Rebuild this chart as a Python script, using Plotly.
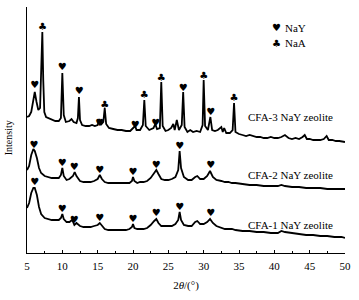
import plotly.graph_objects as go

# ---- data (2theta in degrees, intensity in arbitrary stacked units) ----
x3 = [5.0, 5.3, 5.6, 5.85, 6.1, 6.35, 6.6, 6.85, 7.05, 7.17, 7.3, 7.45, 7.7, 8.0, 8.5, 9.0, 9.5, 9.8, 10.0, 10.2,
      10.5, 11.0, 11.3, 11.6, 12.0, 12.2, 12.35, 12.5, 12.8, 13.3, 13.8, 14.2, 14.6, 15.0, 15.25, 15.45, 15.8, 16.0,
      16.2, 16.6, 17.2, 17.8, 18.4, 19.0, 19.6, 20.1, 20.3, 20.5, 21.0, 21.4, 21.6, 21.8, 22.3, 22.9, 23.15, 23.4,
      23.8, 24.0, 24.2, 24.6, 25.0, 25.4, 25.7, 25.9, 26.2, 26.5, 26.9, 27.1, 27.3, 27.7, 28.1, 28.5, 29.0, 29.5,
      29.85, 30.0, 30.2, 30.6, 30.95, 31.2, 31.6, 32.0, 32.5, 32.7, 32.9, 33.2, 33.7, 34.1, 34.3, 34.5, 35.0, 35.5,
      36.0, 36.5, 37.0, 37.5, 38.0, 38.5, 39.0, 39.5, 40.0, 40.5, 41.0, 41.5, 42.0, 42.5, 43.0, 43.5, 44.0, 44.3,
      44.6, 45.0, 45.5, 46.0, 46.5, 47.0, 47.4, 47.7, 48.2, 48.7, 49.2, 50.0]
y3 = [136, 137, 141, 153, 161, 151, 143, 145, 183, 221, 173, 141, 136, 135, 133, 132, 132, 135, 180, 138,
      131, 132, 134, 131, 130, 135, 156, 133, 128, 127, 127, 128, 127, 128, 134, 128, 131, 145,
      129, 125, 124, 123, 123, 122, 122, 125, 127, 123, 123, 128, 153, 127, 123, 125, 129, 124,
      125, 171, 127, 122, 123, 125, 129, 123, 133, 123, 128, 161, 126, 121, 123, 121, 122, 121,
      128, 173, 127, 123, 136, 123, 122, 123, 126, 121, 125, 120, 120, 123, 150, 121, 119, 118,
      117, 118, 117, 116, 116, 115, 115, 116, 115, 115, 116, 118, 115, 114, 115, 114, 116, 118,
      114, 114, 113, 113, 113, 114, 117, 113, 113, 112, 112, 111]

x2 = [5.0, 5.3, 5.6, 5.9, 6.1, 6.4, 6.7, 7.0, 7.5, 8.0, 8.5, 9.0, 9.5, 9.8, 10.0, 10.2, 10.6, 11.0, 11.5, 11.75,
      12.0, 12.5, 13.0, 13.5, 14.0, 14.5, 15.0, 15.3, 15.6, 16.0, 16.5, 17.0, 17.5, 18.0, 18.5, 19.0, 19.5, 19.85,
      20.0, 20.2, 20.6, 21.0, 21.5, 22.0, 22.5, 23.0, 23.3, 23.6, 24.0, 24.5, 25.0, 25.5, 26.0, 26.4, 26.6, 26.8,
      27.2, 27.8, 28.3, 28.8, 29.1, 29.5, 30.0, 30.5, 30.9, 31.3, 31.8, 32.5, 33.0, 33.5, 34.0, 34.5, 35.5, 36.5,
      37.5, 38.5, 39.5, 40.5, 41.0, 41.5, 42.5, 43.5, 44.5, 45.5, 46.5, 47.5, 48.5, 49.5, 50.0]
y2 = [83, 87, 98, 104, 102, 95, 85, 80, 77, 76, 75, 75, 75, 78, 85, 77, 73, 74, 77, 81,
      77, 72, 71, 71, 71, 72, 74, 78, 74, 71, 70, 70, 70, 70, 70, 70, 70, 72,
      76, 72, 70, 71, 71, 72, 75, 80, 83, 79, 74, 73, 73, 74, 76, 83, 102, 85,
      76, 73, 73, 76, 77, 74, 74, 77, 82, 76, 73, 72, 71, 71, 70, 70, 69, 68,
      68, 67, 67, 67, 68, 67, 66, 66, 65, 65, 65, 64, 64, 64, 64]

x1 = [5.0, 5.3, 5.6, 5.9, 6.1, 6.4, 6.7, 7.0, 7.5, 8.0, 8.5, 9.0, 9.5, 9.8, 10.0, 10.2, 10.6, 11.0, 11.4, 11.7,
      12.0, 12.5, 13.0, 13.5, 14.0, 14.5, 15.0, 15.3, 15.6, 16.0, 16.5, 17.0, 17.5, 18.0, 18.5, 19.0, 19.5, 19.85,
      20.0, 20.2, 20.6, 21.0, 21.5, 22.0, 22.5, 23.0, 23.3, 23.6, 24.0, 24.5, 25.0, 25.5, 26.0, 26.4, 26.6, 26.8,
      27.2, 27.8, 28.3, 28.8, 29.1, 29.5, 30.0, 30.5, 30.9, 31.3, 31.8, 32.5, 33.0, 33.5, 34.0, 34.5, 35.5, 36.5,
      37.5, 38.5, 39.5, 40.5, 41.0, 41.5, 42.5, 43.5, 44.5, 45.5, 46.5, 47.5, 48.5, 49.5, 50.0]
y1 = [45, 50, 60, 65, 65, 58, 46, 39, 35, 34, 33, 33, 33, 35, 39, 34, 31, 31, 33, 28,
      30, 27, 26, 26, 26, 27, 28, 30, 27, 24, 23, 23, 23, 23, 23, 23, 24, 26,
      29, 25, 24, 24, 24, 25, 28, 32, 34, 30, 27, 27, 27, 27, 29, 33, 41, 33,
      28, 27, 27, 31, 32, 29, 29, 31, 34, 30, 27, 25, 24, 24, 24, 23, 22, 22,
      21, 21, 20, 20, 22, 21, 20, 19, 18, 18, 17, 17, 16, 16, 15]

# phase markers (2theta, marker height)
nay_x = [6.1, 10.0, 12.4, 15.3, 20.3, 23.2, 27.1, 31.0,
         6.0, 10.0, 11.7, 15.3, 20.0, 23.3, 26.6, 31.0,
         6.1, 10.0, 11.7, 15.3, 20.0, 23.3, 26.6, 31.0]
nay_y = [168, 186, 162, 130, 128, 130, 165, 141,
         108, 90, 86, 83, 81, 88, 107, 88,
         71, 44, 33, 35, 34, 40, 46, 40]
naa_x = [7.2, 16.0, 21.6, 24.0, 30.0, 34.3]
naa_y = [226, 148, 158, 175, 177, 155]

labels = ["CFA-3 NaY zeolite", "CFA-2 NaY zeolite", "CFA-1 NaY zeolite"]
label_y = [136, 78, 28]

FONT = "Liberation Serif"
fig = go.Figure()
for xs, ys in [(x3, y3), (x2, y2), (x1, y1)]:
    fig.add_trace(go.Scatter(x=xs, y=ys, mode="lines",
                             line=dict(color="black", width=1.8), hoverinfo="skip"))

fig.add_trace(go.Scatter(x=nay_x, y=nay_y, mode="text", text=["♥"] * len(nay_x), hoverinfo="skip",
                         textfont=dict(family="DejaVu Sans", size=10, color="black")))
fig.add_trace(go.Scatter(x=naa_x, y=naa_y, mode="text", text=["♣"] * len(naa_x), hoverinfo="skip",
                         textfont=dict(family="DejaVu Sans", size=10, color="black")))

for t, yy in zip(labels, label_y):
    fig.add_annotation(x=48.6, y=yy, xref="x", yref="y", text=t, showarrow=False,
                       xanchor="right", yanchor="middle",
                       font=dict(family=FONT, size=11, color="black"))

# legend
fig.add_annotation(x=0.786, y=0.915, xref="paper", yref="paper", text="♥", showarrow=False,
                   xanchor="center", yanchor="middle", font=dict(family="DejaVu Sans", size=10, color="black"))
fig.add_annotation(x=0.805, y=0.915, xref="paper", yref="paper", text="NaY", showarrow=False,
                   xanchor="left", yanchor="middle", font=dict(family=FONT, size=11, color="black"))
fig.add_annotation(x=0.786, y=0.852, xref="paper", yref="paper", text="♣", showarrow=False,
                   xanchor="center", yanchor="middle", font=dict(family="DejaVu Sans", size=10, color="black"))
fig.add_annotation(x=0.805, y=0.852, xref="paper", yref="paper", text="NaA", showarrow=False,
                   xanchor="left", yanchor="middle", font=dict(family=FONT, size=11, color="black"))

# y axis title
fig.add_annotation(x=-0.06, y=0.47, xref="paper", yref="paper", text="Intensity", showarrow=False,
                   textangle=-90, xanchor="center", yanchor="middle",
                   font=dict(family=FONT, size=10, color="black"))

fig.update_layout(
    width=359, height=300,
    margin=dict(l=27, r=14, t=7, b=47, autoexpand=False),
    paper_bgcolor="white", plot_bgcolor="white",
    showlegend=False,
    font=dict(family=FONT, size=11, color="black"),
    xaxis=dict(range=[5, 50], tickvals=[5, 10, 15, 20, 25, 30, 35, 40, 45, 50], automargin=False,
               ticks="inside", ticklen=3, tickcolor="black", showline=True, linecolor="black", linewidth=1,
               showgrid=False, zeroline=False, ticklabelstandoff=3,
               minor=dict(dtick=2.5, tick0=5, ticks="inside", ticklen=2, tickcolor="black", showgrid=False),
               title=dict(text="2<i>θ</i>/(°)", font=dict(family=FONT, size=11), standoff=10),
               tickfont=dict(family=FONT, size=11)),
    yaxis=dict(range=[0, 246], tickvals=[246], ticks="inside", ticklen=5, tickcolor="black", automargin=False,
               showticklabels=False, showline=True, linecolor="black", linewidth=1,
               showgrid=False, zeroline=False),
)

fig.write_html("out.html", config={"displayModeBar": False},
               post_script="document.body.style.margin='0';document.body.style.overflow='hidden';")
